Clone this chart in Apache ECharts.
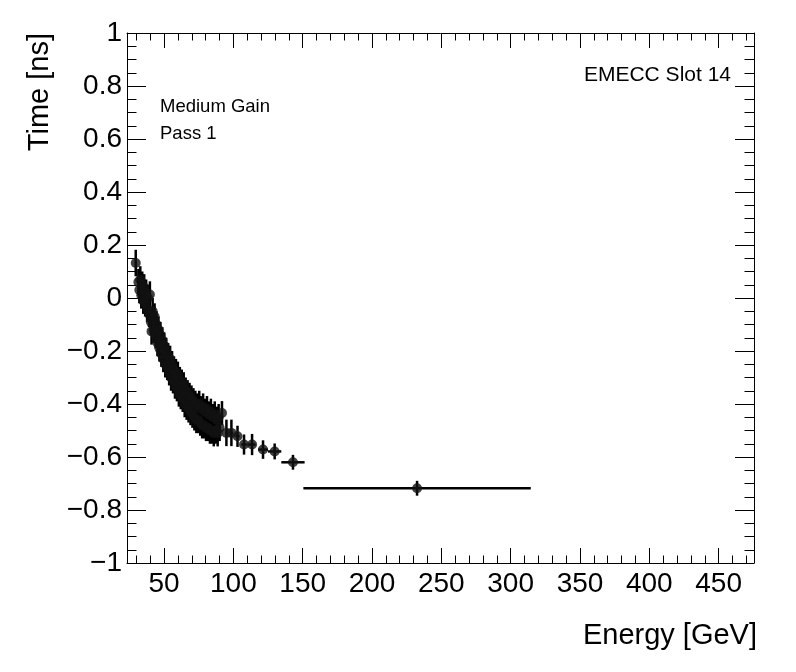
<!DOCTYPE html>
<html>
<head>
<meta charset="utf-8">
<script src="https://cdn.jsdelivr.net/npm/echarts@6/dist/echarts.min.js"></script>
<style>
  html, body { margin: 0; padding: 0; background: #fff; }
  #chart { width: 796px; height: 672px; }
</style>
</head>
<body>
<div id="chart"></div>
<script>
// dense low-energy points: energy [GeV] and time [ns]
var denseEnergy = [29.6, 31.5, 32.2, 32.9, 33.6, 34.3, 35.0, 35.7, 36.4, 37.1, 37.8, 38.5, 39.2,
  39.8, 40.5, 41.0, 41.8,
  42.5, 43.2, 43.9, 44.6, 45.3, 46.0, 46.7, 47.4, 48.1, 48.8, 49.5, 50.2, 50.9, 51.6,
  52.3, 53.0, 53.7, 54.4, 55.1, 55.8, 56.5, 57.2, 57.9, 58.6, 59.3, 60.0, 60.7, 61.4,
  62.1, 62.8, 63.5, 64.2, 64.9, 65.6, 66.3, 67.0, 67.7, 68.4, 69.1, 69.8, 70.5, 71.2,
  71.9, 72.6, 73.3, 74.0, 74.7, 75.4, 76.1, 76.8, 77.5, 78.2, 78.9, 79.6, 80.3, 81.0,
  81.7, 82.4, 83.1, 83.8, 84.5, 85.2, 85.9, 86.6, 87.3, 88.0, 88.7, 89.4, 90.1];
var denseTime = [0.132, 0.06, 0.03, 0.07, 0.01, 0.05, -0.01, 0.04, -0.02, 0.02, -0.04, 0.0, -0.06,
  0.013, -0.09, -0.126, -0.05,
  -0.12, -0.07, -0.14, -0.10, -0.17, -0.12, -0.19, -0.14, -0.21, -0.16, -0.23, -0.18, -0.25, -0.20,
  -0.26, -0.22, -0.28, -0.23, -0.30, -0.25, -0.31, -0.27, -0.33, -0.28, -0.34, -0.29, -0.36, -0.31,
  -0.37, -0.32, -0.38, -0.33, -0.40, -0.35, -0.41, -0.36, -0.42, -0.37, -0.43, -0.38, -0.44, -0.39,
  -0.45, -0.40, -0.46, -0.41, -0.46, -0.40, -0.47, -0.42, -0.48, -0.41, -0.48, -0.43, -0.49, -0.42,
  -0.49, -0.44, -0.50, -0.43, -0.50, -0.45, -0.51, -0.44, -0.50, -0.46, -0.51, -0.45, -0.49];
var DENSE_ENERGY_ERR = 0.5;
var DENSE_TIME_ERR = 0.05;

// wider high-energy bins
var sparseEnergy = [91.8, 95.0, 98.6, 103.0, 107.7, 113.5, 121.4, 129.8, 143.0, 232.5];
var sparseTime = [-0.434, -0.509, -0.509, -0.522, -0.553, -0.553, -0.572, -0.579, -0.620, -0.718];
var sparseEnergyErr = [0.6, 1.0, 1.2, 1.5, 2.0, 2.5, 3.6, 4.8, 8.4, 82];
var sparseTimeErr = [0.045, 0.05, 0.05, 0.04, 0.038, 0.04, 0.035, 0.03, 0.028, 0.028];

var xMajor = [50, 100, 150, 200, 250, 300, 350, 400, 450];
var xMinor = [30, 40, 60, 70, 80, 90, 110, 120, 130, 140, 160, 170, 180, 190, 210, 220, 230, 240,
  260, 270, 280, 290, 310, 320, 330, 340, 360, 370, 380, 390, 410, 420, 430, 440, 460, 470];

var FONT = 'Liberation Sans, Arial, Helvetica, sans-serif';
var X_MIN = 23.3, X_MAX = 475.5;

var points = denseEnergy.map(function (e, i) { return [e, denseTime[i], DENSE_ENERGY_ERR, DENSE_TIME_ERR]; })
  .concat(sparseEnergy.map(function (e, i) { return [e, sparseTime[i], sparseEnergyErr[i], sparseTimeErr[i]]; }));

function fmtY(v) {
  var s = String(+v.toFixed(1));
  return v < 0 ? '\u2212' + s.slice(1) : s;
}

function xAxisOf(grid, pos, ticks, len, labels) {
  return {
    type: 'value', gridIndex: grid, position: pos, min: X_MIN, max: X_MAX,
    axisLine: { show: grid === 0, onZero: false, lineStyle: { color: '#000', width: 1 } },
    axisTick: { show: true, inside: true, length: len, customValues: ticks, lineStyle: { color: '#000', width: 1 } },
    axisLabel: labels ? { show: true, customValues: ticks, color: '#000', fontSize: 28, fontFamily: FONT, margin: 7 } : { show: false },
    splitLine: { show: false }
  };
}

function yAxisOf(pos, labels) {
  return {
    type: 'value', gridIndex: 0, position: pos, min: -1, max: 1, interval: 0.2,
    axisLine: { show: true, onZero: false, lineStyle: { color: '#000', width: 1 } },
    axisTick: { show: true, inside: true, length: 19, lineStyle: { color: '#000', width: 1 } },
    minorTick: { show: true, splitNumber: 4, length: 9.5, lineStyle: { color: '#000', width: 1 } },
    axisLabel: labels ? { show: true, color: '#000', fontSize: 28, fontFamily: FONT, margin: 5, formatter: fmtY } : { show: false },
    splitLine: { show: false }
  };
}

var myChart = echarts.init(document.getElementById('chart'));
var option = {
  backgroundColor: '#fff',
  animation: false,
  grid: [
    { left: 127, right: 42, top: 33, bottom: 109 },
    { left: 127, right: 42, top: 33, bottom: 109 }
  ],
  xAxis: [
    xAxisOf(0, 'bottom', xMajor, 15, true),
    xAxisOf(0, 'top', xMajor, 15, false),
    xAxisOf(1, 'bottom', xMinor, 7.5, false),
    xAxisOf(1, 'top', xMinor, 7.5, false)
  ],
  yAxis: [
    yAxisOf('left', true),
    yAxisOf('right', false),
    { type: 'value', gridIndex: 1, min: -1, max: 1, show: false }
  ],
  series: [
    {
      // error bars
      type: 'custom',
      xAxisIndex: 0, yAxisIndex: 0,
      data: points,
      encode: { x: 0, y: 1 },
      renderItem: function (params, api) {
        var e = api.value(0), t = api.value(1), de = api.value(2), dt = api.value(3);
        var lo = api.coord([e, t - dt]), hi = api.coord([e, t + dt]);
        var le = api.coord([e - de, t]), ri = api.coord([e + de, t]);
        var st = { stroke: '#000', lineWidth: 2.5 };
        return {
          type: 'group',
          children: [
            { type: 'line', shape: { x1: lo[0], y1: lo[1], x2: hi[0], y2: hi[1] }, style: st },
            { type: 'line', shape: { x1: le[0], y1: le[1], x2: ri[0], y2: ri[1] }, style: st }
          ]
        };
      },
      z: 2
    },
    {
      type: 'scatter',
      xAxisIndex: 0, yAxisIndex: 0,
      data: points.map(function (p) { return [p[0], p[1]]; }),
      symbol: 'circle',
      symbolSize: 10,
      itemStyle: { color: '#111' },
      z: 3
    }
  ],
  graphic: [
    { type: 'text', x: 757, y: 636, style: { text: 'Energy [GeV]', font: '29px ' + FONT, textAlign: 'right', textVerticalAlign: 'middle', fill: '#000' } },
    { type: 'text', x: 40, y: 33, rotation: Math.PI / 2, style: { text: 'Time [ns]', font: '29px ' + FONT, textAlign: 'right', textVerticalAlign: 'middle', fill: '#000' } },
    { type: 'text', x: 731, y: 75, style: { text: 'EMECC Slot 14', font: '21px ' + FONT, textAlign: 'right', textVerticalAlign: 'middle', fill: '#000' } },
    { type: 'text', x: 160, y: 107, style: { text: 'Medium Gain', font: '18.5px ' + FONT, textAlign: 'left', textVerticalAlign: 'middle', fill: '#000' } },
    { type: 'text', x: 160, y: 134, style: { text: 'Pass 1', font: '18.5px ' + FONT, textAlign: 'left', textVerticalAlign: 'middle', fill: '#000' } }
  ]
};
myChart.setOption(option);
window.addEventListener('resize', function () {
  myChart.resize();
});
</script>
</body>
</html>
